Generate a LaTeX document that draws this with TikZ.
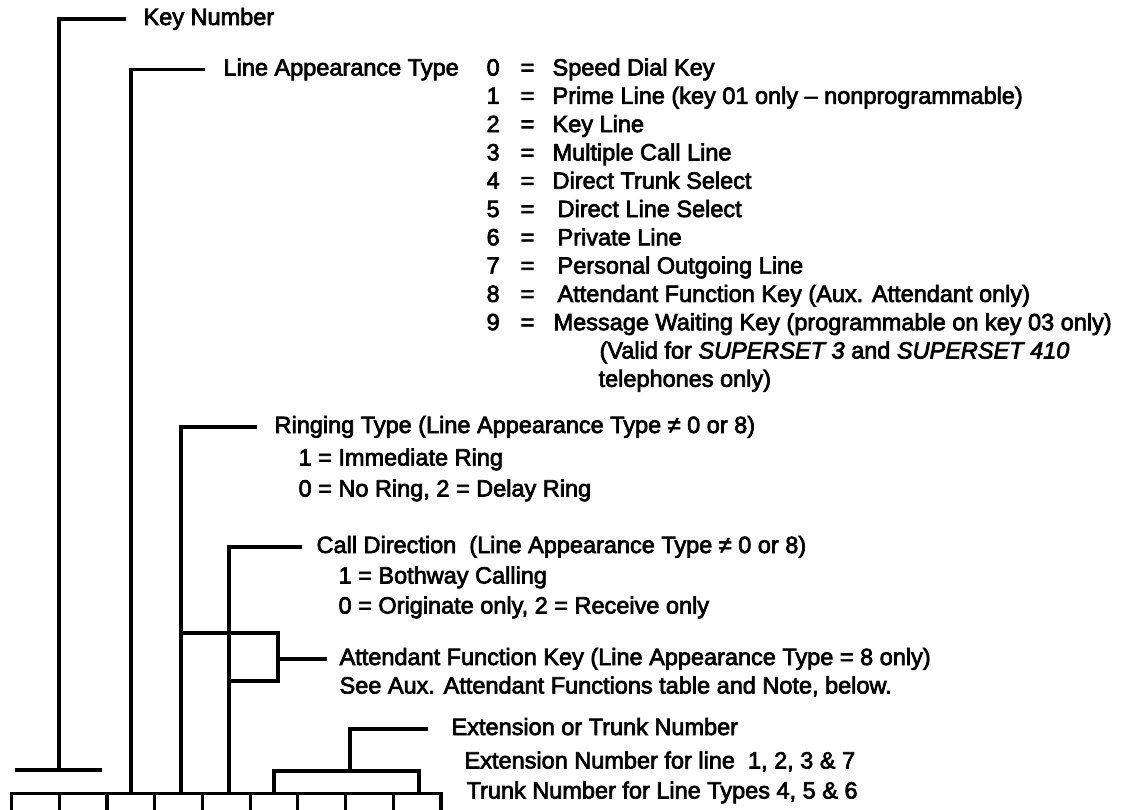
\documentclass[tikz,border=0pt]{standalone}
\usepackage{fontspec}
\setmainfont{Liberation Sans}[
  BoldFont={Liberation Sans},BoldFeatures={FakeBold=3},
  BoldItalicFont={Liberation Sans Italic},BoldItalicFeatures={FakeBold=3}]
\begin{document}
\begin{tikzpicture}[x=1pt,y=-1pt,line width=3.2pt,
  lbl/.style={anchor=west,inner sep=0pt,text height=17pt,text depth=5pt,font=\fontsize{23.5}{28}\selectfont\bfseries},
  keybox/.style={draw,line width=3.2pt,anchor=north west,minimum width=47.7pt,minimum height=40pt,inner sep=0pt}]
\useasboundingbox (0,0) rectangle (1138,809);
\clip (0,0) rectangle (1138,809);
\fill[white] (0,0) rectangle (1138,809);

% ---- text ----
\node[lbl] (key) at (142,19) {Key Number};
\node[lbl] (lat) at (222,69.5) {Line Appearance Type};
\node[lbl] (d0) at (485,69.5) {0}; \node[lbl] (e0) at (519,69.5) {=}; \node[lbl] (t0) at (551,69.5) {Speed Dial Key};
\node[lbl] (d1) at (485,97.8) {1}; \node[lbl] (e1) at (519,97.8) {=}; \node[lbl] (t1) at (551,97.8) {Prime Line (key 01 only – nonprogrammable)};
\node[lbl] (d2) at (485,126.1) {2}; \node[lbl] (e2) at (519,126.1) {=}; \node[lbl] (t2) at (551,126.1) {Key Line};
\node[lbl] (d3) at (485,154.4) {3}; \node[lbl] (e3) at (519,154.4) {=}; \node[lbl] (t3) at (551,154.4) {Multiple Call Line};
\node[lbl] (d4) at (485,182.7) {4}; \node[lbl] (e4) at (519,182.7) {=}; \node[lbl] (t4) at (551,182.7) {Direct Trunk Select};
\node[lbl] (d5) at (485,211) {5}; \node[lbl] (e5) at (519,211) {=}; \node[lbl] (t5) at (556,211) {Direct Line Select};
\node[lbl] (d6) at (485,239.3) {6}; \node[lbl] (e6) at (519,239.3) {=}; \node[lbl] (t6) at (556,239.3) {Private Line};
\node[lbl] (d7) at (485,267.6) {7}; \node[lbl] (e7) at (519,267.6) {=}; \node[lbl] (t7) at (556,267.6) {Personal Outgoing Line};
\node[lbl] (d8) at (485,295.9) {8}; \node[lbl] (e8) at (519,295.9) {=}; \node[lbl] (t8) at (556,295.9) {Attendant Function Key (Aux. Attendant only)};
\node[lbl] (d9) at (485,324.2) {9}; \node[lbl] (e9) at (519,324.2) {=}; \node[lbl] (t9) at (552,324.2) {Message Waiting Key (programmable on key 03 only)};
\node[lbl] (valid) at (598,352.5) {(Valid for \textit{SUPERSET 3} and \textit{SUPERSET 410}};
\node[lbl] (tel) at (597,380.8) {telephones only)};

\node[lbl] (ring) at (273,427) {Ringing Type (Line Appearance Type ≠ 0 or 8)};
\node[lbl] (imm) at (297,459.5) {1 = Immediate Ring};
\node[lbl] (noring) at (297,490.5) {0 = No Ring, 2 = Delay Ring};
\node[lbl] (cdir) at (315,547) {Call Direction\ \ (Line Appearance Type ≠ 0 or 8)};
\node[lbl] (both) at (337,577.5) {1 = Bothway Calling};
\node[lbl] (orig) at (337,607.5) {0 = Originate only, 2 = Receive only};
\node[lbl] (att) at (338,659) {Attendant Function Key (Line Appearance Type = 8 only)};
\node[lbl] (aux) at (338,687.5) {See Aux. Attendant Functions table and Note, below.};
\node[lbl] (ext) at (450,729) {Extension or Trunk Number};
\node[lbl] (extn) at (463,762.5) {Extension Number for line\ \ 1, 2, 3 \& 7};
\node[lbl] (trk) at (465,792.5) {Trunk Number for Line Types 4, 5 \& 6};

% ---- key boxes ----
\foreach \k in {0,...,8} {
  \node[keybox] (b\k) at ({10+47.7*\k},792) {};
}

% ---- brackets ----
\coordinate (kb) at (59,770);
\coordinate (kl) at (15,770);
\coordinate (kr) at (102,770);
\draw (kl) -- (kr);
\draw (kb) |- ([xshift=-16pt]key.west);

\coordinate (lb) at (131,792);
\draw (lb) |- ([xshift=-17pt]lat.west);

\coordinate (rb) at (181,792);
\draw (rb) |- ([xshift=-16pt]ring.west);

\coordinate (cb) at (229,792);
\draw (cb) |- ([xshift=-13pt]cdir.west);

\coordinate (a1) at (181,633);
\coordinate (ar1) at (278,633);
\coordinate (ar2) at (278,681);
\coordinate (a2) at (229,681);
\coordinate (arm) at (278,659);
\draw (a1) -- (ar1) -- (ar2) -- (a2);
\draw (arm) -- ([xshift=-11pt]att.west);

\coordinate (eb) at (350,771);
\draw (eb) |- ([xshift=-22pt]ext.west);
\coordinate (x1) at (274,792);
\coordinate (x2) at (274,771);
\coordinate (x3) at (419,771);
\coordinate (x4) at (419,792);
\draw (x1) -- (x2) -- (x3) -- (x4);
\end{tikzpicture}
\end{document}
